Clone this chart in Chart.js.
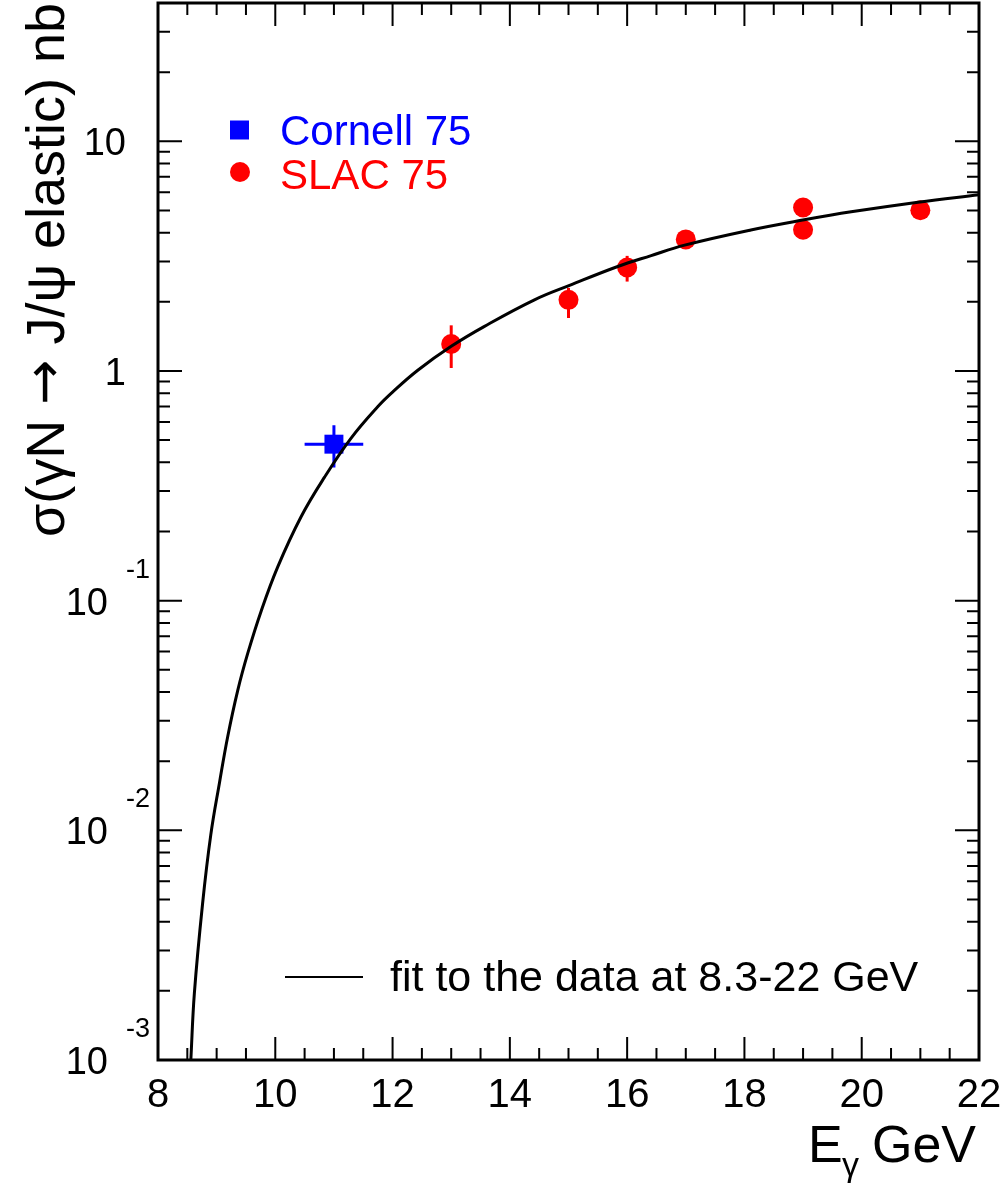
<!DOCTYPE html>
<html>
<head>
<meta charset="utf-8">
<script src="https://cdn.jsdelivr.net/npm/chart.js@4.4.1/dist/chart.umd.min.js"></script>
<style>
body { margin: 0; background: #fff; }
#wrap { width: 1004px; height: 1187px; }
</style>
</head>
<body>
<div id="wrap"><canvas id="jpsi-chart" width="1004" height="1187"></canvas></div>
<script>
// fit curve
var fitE     = [8.56, 8.62, 8.76, 8.90, 9.05, 9.19, 9.36, 9.53, 9.76, 10.04, 10.44, 10.84, 11.29, 11.75, 12.0, 12.43, 13.0, 13.56, 14.42, 15.04, 15.84, 16.41, 16.98, 18.11, 19.02, 19.82, 20.96, 22.0];
var fitSigma = [0.001, 0.00195, 0.00479, 0.00955, 0.0162, 0.0257, 0.0407, 0.0589, 0.0902, 0.140, 0.232, 0.345, 0.509, 0.700, 0.809, 1.007, 1.28, 1.56, 2.04, 2.37, 2.85, 3.18, 3.53, 4.11, 4.55, 4.93, 5.43, 5.85];

// Cornell 75
var cornellE = [11.0];
var cornellSigma = [0.48];
var cornellLo = [0.38];
var cornellHi = [0.58];
var cornellEerr = [0.5];

// SLAC 75
var slacE     = [13, 15, 16, 17, 19, 19, 21];
var slacSigma = [1.31, 2.04, 2.82, 3.74, 5.15, 4.12, 5.01];
var slacLo    = [1.03, 1.70, 2.45, 3.55, 4.95, 3.95, 4.82];
var slacHi    = [1.58, 2.30, 3.17, 3.95, 5.35, 4.30, 5.20];

var xTicks = [8, 10, 12, 14, 16, 18, 20, 22];
var yTicks = [0.001, 0.01, 0.1, 1, 10];
var yTickBase = ['10', '10', '10', '1', '10'];
var yTickExp  = ['-3', '-2', '-1', '', ''];

var FONT = '"Liberation Sans", Arial, Helvetica, sans-serif';

function toPoints(xs, ys) {
    return xs.map(function(x, i) { return {x: x, y: ys[i]}; });
}

var rootStyle = {
    id: 'rootStyle',
    beforeDatasetsDraw: function(chart) {
        var c = chart.ctx, xs = chart.scales.x, ys = chart.scales.y;
        c.save();
        c.lineWidth = 3;
        c.strokeStyle = '#ff0000';
        slacE.forEach(function(e, i) {
            var px = xs.getPixelForValue(e);
            c.beginPath();
            c.moveTo(px, ys.getPixelForValue(slacLo[i]));
            c.lineTo(px, ys.getPixelForValue(slacHi[i]));
            c.stroke();
        });
        c.strokeStyle = '#0000ff';
        cornellE.forEach(function(e, i) {
            var px = xs.getPixelForValue(e), py = ys.getPixelForValue(cornellSigma[i]);
            c.beginPath();
            c.moveTo(px, ys.getPixelForValue(cornellLo[i]));
            c.lineTo(px, ys.getPixelForValue(cornellHi[i]));
            c.moveTo(xs.getPixelForValue(e - cornellEerr[i]), py);
            c.lineTo(xs.getPixelForValue(e + cornellEerr[i]), py);
            c.stroke();
        });
        c.restore();
    },
    afterDatasetsDraw: function(chart) {
        var c = chart.ctx, a = chart.chartArea, xs = chart.scales.x, ys = chart.scales.y;
        c.save();
        c.strokeStyle = '#000';
        c.fillStyle = '#000';

        // ticks, inside the frame on all four sides
        c.lineWidth = 2;
        c.beginPath();
        for (var v = 8; v <= 22.001; v += 0.5) {
            var px = xs.getPixelForValue(v);
            var len = (Math.abs(v % 2) < 0.01) ? 23 : 12;
            c.moveTo(px, a.bottom); c.lineTo(px, a.bottom - len);
            c.moveTo(px, a.top); c.lineTo(px, a.top + len);
        }
        for (var d = -3; d <= 1; d++) {
            for (var m = 1; m <= 9; m++) {
                var val = m * Math.pow(10, d);
                if (val > 40.01) break;
                var py = ys.getPixelForValue(val);
                var l = (m === 1) ? 24 : 12;
                c.moveTo(a.left, py); c.lineTo(a.left + l, py);
                c.moveTo(a.right, py); c.lineTo(a.right - l, py);
            }
        }
        c.stroke();

        // frame
        c.lineWidth = 3;
        c.strokeRect(a.left, a.top, a.right - a.left, a.bottom - a.top);

        // x tick labels
        c.font = '40px ' + FONT;
        c.textAlign = 'center';
        c.textBaseline = 'alphabetic';
        xTicks.forEach(function(t) {
            c.fillText(String(t), xs.getPixelForValue(t), 1107);
        });

        // y tick labels
        yTicks.forEach(function(t, i) {
            var py = ys.getPixelForValue(t);
            c.textAlign = 'right';
            c.font = '38px ' + FONT;
            if (yTickExp[i]) {
                c.fillText(yTickBase[i], 108, py + 14);
                c.textAlign = 'left';
                c.font = '27px ' + FONT;
                c.fillText(yTickExp[i], 126, py - 23);
            } else {
                c.fillText(yTickBase[i], 126, py + 14);
            }
        });

        // x title
        c.textAlign = 'left';
        c.font = '52px ' + FONT;
        c.fillText('E', 808, 1162);
        c.font = '34px ' + FONT;
        c.fillText('\u03b3', 842, 1176);
        c.font = '52px ' + FONT;
        c.fillText('GeV', 872, 1162);

        // y title, in three pieces so the arrow can be a longer one
        var partA = '\u03c3(\u03b3N ', partB = '\u2192', partC = ' J/\u03c8 elastic) nb';
        var fA = '54px ' + FONT, fB = '54px "DejaVu Sans", ' + FONT;
        c.font = fA;
        var wA = c.measureText(partA).width, wC = c.measureText(partC).width;
        c.font = fB;
        var wB = c.measureText(partB).width;
        var total = wA + wB + wC;
        c.save();
        c.translate(64, 270);
        c.rotate(-Math.PI / 2);
        c.textAlign = 'left';
        var x0 = -total / 2;
        c.font = fA; c.fillText(partA, x0, 0);
        c.font = fB; c.fillText(partB, x0 + wA, -2);
        c.font = fA; c.fillText(partC, x0 + wA + wB, 0);
        c.restore();

        // legend, top left
        c.textAlign = 'left';
        c.fillStyle = '#0000ff';
        c.fillRect(230, 120.5, 19, 19);
        c.font = '42px ' + FONT;
        c.fillText('Cornell 75', 280, 145);
        c.fillStyle = '#ff0000';
        c.beginPath();
        c.arc(240, 172, 10, 0, Math.PI * 2);
        c.fill();
        c.fillText('SLAC 75', 280, 189);

        // legend, fit
        c.strokeStyle = '#000';
        c.lineWidth = 2;
        c.beginPath();
        c.moveTo(285, 977); c.lineTo(363, 977);
        c.stroke();
        c.fillStyle = '#000';
        c.font = '43px ' + FONT;
        c.fillText('fit to the data at 8.3-22 GeV', 390, 991);
        c.restore();
    }
};

var chart = new Chart(document.getElementById('jpsi-chart').getContext('2d'), {
    type: 'scatter',
    data: {
        datasets: [{
            label: 'fit',
            data: toPoints(fitE, fitSigma),
            showLine: true,
            borderColor: '#000',
            borderWidth: 3,
            pointRadius: 0,
            tension: 0.4,
            order: 0
        }, {
            label: 'Cornell 75',
            data: toPoints(cornellE, cornellSigma),
            pointStyle: 'rect',
            pointRadius: 13.4,
            backgroundColor: '#0000ff',
            borderWidth: 0,
            order: 1
        }, {
            label: 'SLAC 75',
            data: toPoints(slacE, slacSigma),
            pointStyle: 'circle',
            pointRadius: 10,
            backgroundColor: '#ff0000',
            borderWidth: 0,
            order: 2
        }]
    },
    options: {
        responsive: false,
        devicePixelRatio: 1,
        animation: false,
        layout: { autoPadding: false, padding: { left: 158, right: 25, top: 3, bottom: 127 } },
        plugins: { legend: { display: false }, tooltip: { enabled: false } },
        scales: {
            x: { type: 'linear', min: 8, max: 22, display: false },
            y: { type: 'logarithmic', min: 0.001, max: 40, display: false }
        }
    },
    plugins: [rootStyle]
});
</script>
</body>
</html>
